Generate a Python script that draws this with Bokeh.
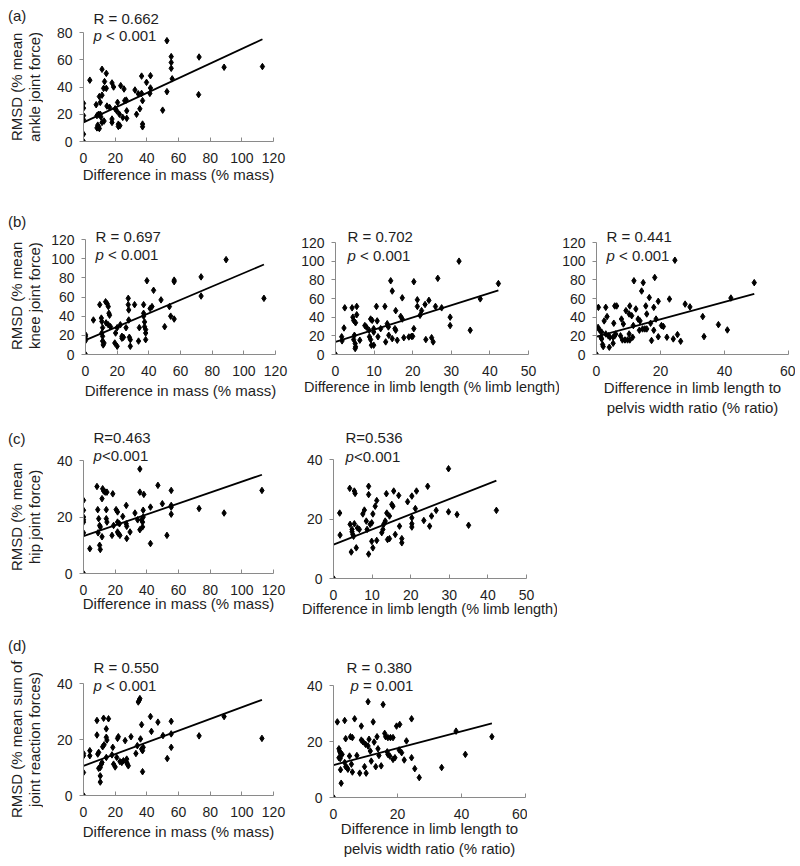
from bokeh.plotting import figure
from bokeh.layouts import column, row
from bokeh.models import Range1d, FixedTicker, Label, Div
from bokeh.embed import file_html
from bokeh.resources import INLINE

FONT = "Liberation Sans"
TXT = "#1e1e1e"
AXC = "#8a8a8a"

# ---------------- data ----------------
# (a) ankle: difference in mass vs RMSD
a_x = [0, 0, 0, 0, 0, 0, 4, 8, 8.5, 8.5, 9, 9.5, 10, 10.6, 10, 11.7, 11.7, 12.7, 14.4, 13.3, 14.4, 11.7, 13, 14.8, 11, 9.5, 10.6, 16.5,
       18, 19, 18, 18, 20, 21, 21.5, 22, 22, 23, 22.7, 23.5, 24.8, 25.6, 26, 27.3, 27.3, 27, 32.5, 33.5, 34.6, 35.6, 36.7, 36.7,
       37.3, 37.3, 37.3, 39.8, 41.9, 42.3, 42.3, 50, 52.7, 52.7, 55.4, 55.4, 55.4, 56, 72.7, 73, 88.8, 113]
a_y = [0, 5.4, 16, 19, 24.5, 28, 45, 27, 19, 10, 12, 11, 9.5, 20, 33, 34, 53, 39, 39, 44, 50, 14, 15, 26, 18, 20, 28.7, 25,
       43, 40, 16.5, 14, 24, 22.5, 28.7, 12.7, 11, 11.6, 20, 41, 17.7, 38.5, 30, 17, 22.5, 30.4, 37.8, 20, 35, 24, 48, 35.3,
       30, 12.8, 10.8, 43.4, 35.3, 48.3, 39.3, 23, 74, 36.6, 62.3, 58, 53.7, 46, 34.4, 62, 54.5, 55]
a_fit = (14.0, 0.54)

# (b) knee: difference in mass
b1_x = [0, 0, 0, 0, 0, 5, 9, 10, 10.3, 10.8, 10.3, 10.8, 10.8, 11.7, 11.2, 12.7, 13.7, 14.4, 14.8, 15.2, 13, 14.4, 15.8, 18.5,
        20, 19, 20, 22, 23, 23, 24, 25.6, 27, 27, 27.3, 27.3, 27.7, 28.3, 28.3, 31, 33.5, 34, 36.7, 36.7, 36.7, 37.3, 37.3, 38,
        38, 38, 38.8, 43, 42, 40.8, 47.7, 50, 53, 53.8, 56, 56, 56, 73, 73, 88.8, 112.7]
b1_y = [0, 20.7, 19, 16.5, 14.5, 36, 52, 38, 34.5, 28, 22.4, 19, 14, 12, 10, 55, 53, 50, 43, 41, 33, 31, 29, 12,
        8.6, 22.4, 28, 31, 19, 17, 18, 28, 58.6, 52, 46.5, 36, 18, 15.5, 8.6, 52, 14, 28, 52, 43, 40, 34, 29, 26,
        22.4, 15.5, 77, 67, 50, 48, 57, 29, 50, 40, 77.6, 76, 37, 81, 61, 99, 58.6]
b1_fit = (15.0, 0.70)

# (b) knee: difference in limb length
b2_x = [0, 1.6, 1.7, 2.2, 2.4, 4.3, 4.5, 4.7, 5.2, 4.9, 4.7, 5.1, 5.2, 5.1, 5.5, 5.5, 6.3, 7.6, 8, 8.7, 8.8, 9.1, 9.3, 9.1,
        9.5, 9.9, 9.9, 9.9, 10.6, 10.8, 11, 11.7, 12.8, 13, 13.4, 13.7, 13.8, 14.3, 14.7, 14.7, 15.4, 15.6, 15.6, 16, 16.9,
        17.3, 17.3, 17.7, 19, 19.7, 20, 20.3, 20.3, 21.2, 21.2, 21.9, 22.3, 23.2, 24.2, 23.4, 24.9, 25.3, 25.9, 26.5, 27.5,
        29.7, 29.7, 32, 34.9, 37.5, 42.2]
b2_y = [0, 19, 14.6, 28.4, 50, 50, 40, 36.5, 34, 20.6, 16, 11.7, 8.2, 6.4, 51.5, 42.6, 15.3, 31, 29.5, 26, 19, 16, 10, 38,
        36.6, 27.7, 24, 10, 51.5, 36, 19, 27.7, 51.5, 13.5, 33, 29.5, 20.6, 79, 68, 17, 27.7, 26, 47, 15.3, 40.8,
        38, 60.7, 18, 18.8, 19.5, 19.5, 78, 27.7, 58.6, 51.5, 42, 47, 53.6, 58, 16, 18, 13.5, 51.5, 81.6, 50,
        40, 31, 100, 26, 59.6, 76]
b2_fit = (13.5, 1.31)

# (b) knee: difference in limb length to pelvis width ratio
b3_x = [0, 0.6, 0.5, 1, 1.6, 1.4, 1.6, 1.9, 2.1, 2.4, 2.9, 3.3, 2.9, 3.7, 4.2, 4, 5.2, 5.7, 6, 5.4, 5.7, 6.3, 5.2, 7.5, 7.8,
        8.4, 8.1, 8.9, 9.7, 10.4, 9.2, 10.2, 10.4, 10.2, 11, 11.3, 11.5, 11.7, 12.3, 13, 13.6, 13.4, 14.1, 14.6, 14.4, 15.1,
        15.7, 15.4, 15.7, 16.5, 16.9, 17.2, 17.9, 18.2, 18.6, 17.9, 19.3, 19.3, 20.3, 20.9, 22, 22.8, 24, 24.5, 25.3, 26.3,
        27.7, 29.2, 33.2, 33.6, 38.1, 40.9, 42, 49.3]
b3_y = [0, 50.5, 29, 26, 24, 18.5, 16.7, 10.7, 8.5, 36, 50.5, 40.6, 22, 20, 18.5, 7.8, 18.5, 20, 22, 33.5, 52, 52, 12, 20, 38,
        32.7, 15.6, 15.6, 15.6, 15.6, 47, 43.4, 52, 22, 41.6, 18.5, 31, 79, 48.8, 38, 36, 26, 68, 77, 27.4, 27.4,
        27.4, 52, 43.4, 61, 33.5, 15, 50.5, 82.5, 38, 26, 57, 19, 31, 30, 18.5, 59.4, 16.7, 101, 21.3, 14.2,
        54, 51, 40.6, 19.2, 32, 26.3, 60.5, 77]
b3_fit = (19.2, 0.93)

# (c) hip: difference in mass
c1_x = [0, 0, 0, 0, 0, 0, 0, 4, 8.5, 9, 9.2, 9.6, 10.2, 10.6, 10.2, 10.6, 11.7, 12.1, 12.7, 13.7, 14.8, 11.7, 14.4, 14.8, 14.4,
        18, 18.5, 19, 20.6, 21.5, 21.5, 22.7, 21.5, 22, 23, 24.8, 27, 27, 27.3, 27.3, 29.4, 32.5, 34.2, 35.6, 35.6, 35.6,
        36.7, 37.3, 37.7, 37.3, 38.1, 37.7, 42.3, 42.3, 47, 49.8, 52.7, 55.4, 55.4, 55.4, 55.4, 73, 88.8, 112.7]
c1_y = [0, 25.9, 22.4, 20, 19, 18.2, 14.4, 8.8, 30.8, 22.6, 14.4, 19.4, 17, 16.5, 10, 8.5, 26.5, 30, 29.2, 28.8, 28.8, 13, 19.4, 18.2, 22.6,
        13.5, 28.2, 17, 22.6, 21.8, 18.2, 17.6, 14.7, 14.1, 13.5, 20.2, 24.1, 17.6, 16.7, 12.4, 14.7, 21.4, 19, 37, 28.8, 15.5,
        19, 18.2, 20, 16.5, 28, 22.4, 23.5, 10.6, 31.2, 24.7, 13.5, 29.4, 24.1, 23.5, 21, 23, 21.4, 29.4]
c1_fit = (13.2, 0.193)

# (c) hip: difference in limb length
c2_x = [0, 1.6, 1.7, 4.2, 4.3, 4.8, 4.8, 5, 5.2, 4.6, 5.4, 5.6, 5.4, 5.9, 6.2, 6.7, 7.6, 8, 8.7, 8.5, 9.1, 9.1, 9.1, 9.5, 9.9,
        9.9, 10.2, 10.2, 10.8, 11.2, 11.2, 12.5, 12.8, 13, 13.4, 13.7, 13.8, 14, 14.5, 14.5, 15.1, 15.4, 15.6, 16, 16.9, 17.1,
        17.7, 17.7, 19.2, 20.3, 20.3, 20.3, 20.3, 21.2, 21.5, 23.4, 24.4, 24.9, 25.4, 26.6, 29.8, 29.8, 32, 35, 42.2]
c2_y = [0, 22, 14.6, 30.3, 18.2, 16.5, 15.7, 14.8, 14.2, 8.9, 29.4, 28.6, 18.4, 10.3, 17, 16.5, 21.7, 23, 16.5, 19.3, 31, 28.2, 8.2, 18.2, 18.7,
        12.5, 21.7, 10.3, 24.3, 26.2, 12.8, 15.4, 16.5, 18.2, 19.3, 28.5, 22, 13.1, 13.4, 21, 24.9, 24.3, 29.4, 14.8, 27.9, 17.6,
        13.4, 12, 25.8, 27.7, 20.4, 18.4, 17.3, 23.5, 29.4, 19.5, 31, 17.6, 21, 22.9, 36.9, 22.4, 21.5, 17.9, 22.9]
c2_fit = (11.4, 0.51)

# (d) sum of joint reaction forces: difference in mass
d1_x = [0, 0, 0, 0, 4, 4, 8.5, 8.5, 9, 9.6, 9.6, 10.6, 10.6, 10.6, 11.7, 11.3, 12.1, 13, 12.7, 14.4, 14.4, 14.4, 14.8, 15.8,
        18.5, 18, 19, 20, 21, 21.5, 22, 23, 24.2, 25.2, 26.3, 27.3, 27.3, 27.7, 28.3, 30, 33.1, 34, 34.6, 35.2, 35.6, 36,
        36.7, 36.7, 37.3, 37.7, 37.3, 42.3, 42.9, 47, 50.2, 52.9, 55.4, 55.4, 55.4, 73, 88.8, 112.7]
d1_y = [0, 8.2, 15, 14.2, 16, 14.2, 26.8, 21.6, 14.8, 15.4, 9.7, 10, 7, 4.8, 11.8, 11.2, 17.4, 18.1, 27.6, 13.6, 23.8, 20.8, 19.8, 27.4,
        17.2, 14.5, 11.2, 10.2, 13.6, 20.4, 21, 12.1, 11.8, 12.4, 19.6, 13, 11.8, 11.2, 10.6, 21, 15, 17.8, 33.4, 34, 34.6, 20.2,
        25.3, 16.6, 16, 17.2, 8.5, 28.2, 22.9, 26.2, 21.4, 13.2, 26.5, 22, 17.2, 21.3, 28.2, 20.4]
d1_fit = (10.6, 0.209)

# (d) sum of joint reaction forces: difference in limb length to pelvis width ratio
d2_x = [0, 1.2, 1.7, 1.9, 2.1, 1.7, 2.1, 2.2, 2.4, 2.7, 3.5, 3.8, 3.5, 3.8, 4.2, 4.5, 5, 5.3, 5.9, 5.6, 5.9, 6.6, 7.3, 8.2,
        8.7, 8.7, 9.2, 10, 10.8, 9.7, 10.2, 10.8, 11.1, 11.5, 11.8, 12.4, 12.7, 13.2, 13.6, 13.9, 14.2, 14.9, 15.5, 16, 16.3,
        17, 16.8, 17, 17.6, 17.8, 18.6, 18.6, 19.2, 19.7, 20.7, 20.5, 21.3, 22.1, 22.8, 24.4, 24.4, 25.4, 26.8, 33.8, 38.3,
        41.2, 49.5]
d2_y = [0, 27, 17.4, 16.6, 16, 14.2, 13.9, 9.9, 5.1, 15.4, 27.5, 21, 12.5, 11, 10.7, 10.1, 14.8, 21.7, 21.4, 11.9, 9.1, 28.1, 15, 8.7,
        25.5, 20.5, 19.9, 19, 18.4, 11, 8.7, 34.2, 20.8, 16.6, 13, 27, 19.8, 11, 21.7, 17.4, 15, 11.3, 33.2, 22.9, 21.7,
        21.4, 16.3, 15.4, 14.8, 21.4, 21.4, 13.6, 14.2, 25.5, 26.1, 17, 16, 13.4, 20.2, 28.1, 14.2, 10.3, 7.1, 10.7, 23.7,
        15.4, 21.7]
d2_fit = (11.6, 0.30)

# stats texts
a_r, a_p = "R = 0.662", "< 0.001"
b1_r, b1_p = "R = 0.697", "< 0.001"
b2_r, b2_p = "R = 0.702", "< 0.001"
b3_r, b3_p = "R = 0.441", "< 0.001"
c1_r, c1_p = "R=0.463", "<0.001"
c2_r, c2_p = "R=0.536", "<0.001"
d1_r, d1_p = "R = 0.550", "< 0.001"
d2_r, d2_p = "R = 0.380", "= 0.001"

MASS = "Difference in mass (% mass)"
LIMB = "Difference in limb length (% limb length)"
RATIO = "Difference in limb length to\npelvis width ratio (% ratio)"

YT_A = ("RMSD (% mean", "ankle joint force)")
YT_B = ("RMSD (% mean", "knee joint force)")
YT_C = ("RMSD (% mean", "hip joint force)")
YT_D = ("RMSD (% mean sum of", "joint reaction forces)")


def panel(xs, ys, fit, xmax, xstep, ymax, ystep, fw, h_axis, h_ext, bl, br, bt, bb,
          xtitle, xt_size, xt_standoff, rtext, ptext, rpos, ppos, p_gap):
    fh = h_axis + h_ext
    p = figure(frame_width=fw, frame_height=fh,
               min_border_left=bl, min_border_right=br, min_border_top=bt, min_border_bottom=bb,
               x_range=Range1d(0, xmax), y_range=Range1d(0, ymax * fh / h_axis),
               output_backend="svg", toolbar_location=None, tools="")
    p.outline_line_color = None
    p.xgrid.visible = False
    p.ygrid.visible = False
    p.background_fill_color = "white"
    p.border_fill_color = "white"

    xa = p.xaxis[0]
    ya = p.yaxis[0]
    xa.ticker = FixedTicker(ticks=list(range(0, xmax + 1, xstep)))
    ya.ticker = FixedTicker(ticks=list(range(0, ymax + 1, ystep)))
    ya.bounds = (0, ymax)
    for ax in (xa, ya):
        ax.axis_line_color = AXC
        ax.major_tick_line_color = AXC
        ax.minor_tick_line_color = None
        ax.major_label_text_font = FONT
        ax.major_label_text_font_size = "14px"
        ax.major_label_text_color = TXT
        ax.axis_label_text_font = FONT
        ax.axis_label_text_font_style = "normal"
        ax.axis_label_text_color = TXT
    xa.major_tick_in = 4
    xa.major_tick_out = 0
    xa.major_label_standoff = 11
    xa.axis_label = xtitle
    xa.axis_label_text_font_size = xt_size
    xa.axis_label_standoff = xt_standoff
    ya.major_tick_in = 0
    ya.major_tick_out = 4
    ya.major_label_standoff = 7

    p.scatter(xs, ys, marker="diamond", size=6.5, color="black")
    x_end = max(xs)
    p.line([0, x_end], [fit[0], fit[0] + fit[1] * x_end], line_color="black", line_width=1.8)

    def lab(x, y, text, style="normal"):
        p.add_layout(Label(x=x, y=y, x_units="screen", y_units="screen", text=text,
                           text_font=FONT, text_font_size="15px", text_font_style=style,
                           text_color=TXT, text_baseline="middle", text_align="left"))

    lab(rpos[0], rpos[1], rtext)
    lab(ppos[0], ppos[1], "p", style="italic")
    lab(ppos[0] + p_gap, ppos[1], ptext)
    return p


def side(height, letter, letter_top, ytitle, center_y, block_h):
    html = (
        f'<div style="position:relative;width:40px;height:{height}px;font-family:\'{FONT}\';'
        f'font-size:15px;color:{TXT};">'
        f'<div style="position:absolute;left:0px;top:{letter_top}px;line-height:15px;white-space:nowrap;">{letter}</div>'
        f'<div style="position:absolute;left:0px;top:{center_y - block_h / 2}px;width:36px;height:{block_h}px;'
        f'writing-mode:vertical-rl;transform:rotate(180deg);text-align:center;line-height:18px;white-space:nowrap;">'
        f'{ytitle[0]}<br>{ytitle[1]}</div></div>'
    )
    return Div(text=html, width=40, height=height, margin=(0, 0, 0, 0))


SP = 12.5   # gap after italic p when followed by a space
NS = 8.5    # gap after italic p with no space

pa = panel(a_x, a_y, a_fit, 120, 20, 80, 20, 190, 109, 24, 35, 19, 0, 49, MASS, "15px", 0,
           a_r, a_p, (10, 123), (10, 106), SP)
sa = side(182, "(a)", 0, YT_A, 78.5, 150)

pb1 = panel(b1_x, b1_y, b1_fit, 120, 20, 120, 20, 190, 115, 13, 35, 19, 35, 67, MASS, "15px", 3,
            b1_r, b1_p, (10, 118), (10, 99.7), SP)
sb = side(230, "(b)", 24, YT_B, 105.5, 180)
pb2 = panel(b2_x, b2_y, b2_fit, 50, 10, 120, 20, 193, 112, 16, 41, 31, 36, 66, LIMB, "14.5px", 0,
            b2_r, b2_p, (12, 118), (12, 99), SP)
pb3 = panel(b3_x, b3_y, b3_fit, 60, 20, 120, 20, 192, 112, 16, 36, 7, 36, 66, RATIO, "15px", 0,
            b3_r, b3_p, (10, 118), (10, 99), SP)

pc1 = panel(c1_x, c1_y, c1_fit, 120, 20, 40, 20, 190, 113, 33, 35, 19, 7, 53, MASS, "15px", -3,
            c1_r, c1_p, (10, 136.3), (10, 118), NS)
sc = side(206, "(c)", 10.5, YT_C, 96.5, 180)
pc2 = panel(c2_x, c2_y, c2_fit, 50, 10, 40, 20, 193, 119, 32, 41, 31, 3, 52, LIMB, "14.5px", -2,
            c2_r, c2_p, (12, 140.7), (12, 122.3), NS)

pd1 = panel(d1_x, d1_y, d1_fit, 120, 20, 40, 20, 190, 112, 26, 35, 19, 31, 63, MASS, "15px", 3,
            d1_r, d1_p, (10, 128.3), (10, 110), SP)
sd = side(232, "(d)", 11.5, YT_D, 113, 190)
pd2 = panel(d2_x, d2_y, d2_fit, 60, 20, 40, 20, 192, 112, 28, 41, 2, 31, 61, RATIO, "15px", -2,
            d2_r, d2_p, (13, 130.3), (17, 112), SP)

layout = column(
    row(sa, pa, spacing=0),
    row(sb, pb1, pb2, pb3, spacing=0),
    row(sc, pc1, pc2, spacing=0),
    row(sd, pd1, pd2, spacing=0),
    spacing=0,
    margin=(8, 0, 0, 8),
)

open("out.html", "w").write(file_html(layout, INLINE))
